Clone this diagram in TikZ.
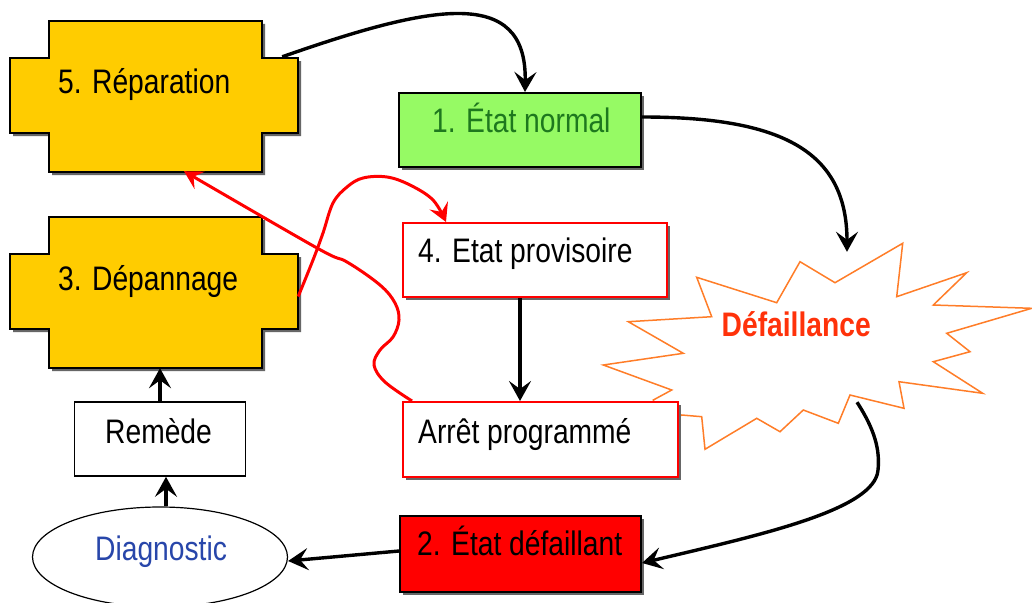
\documentclass[tikz,border=0pt]{standalone}
\usepackage{fontspec}
\setmainfont[FakeStretch=0.83]{Liberation Sans}
\usetikzlibrary{calc,shadows,arrows.meta,shapes.geometric}
\definecolor{gold}{RGB}{255,204,0}
\definecolor{normgreen}{RGB}{150,250,100}
\definecolor{normtext}{RGB}{30,120,30}
\definecolor{burstorange}{RGB}{255,125,40}
\definecolor{failred}{RGB}{255,50,10}
\definecolor{diagblue}{RGB}{40,70,170}
\begin{document}
\begin{tikzpicture}[x=1pt,y=-1pt,
  lbl/.style={anchor=base west, inner sep=0pt, font=\fontsize{34}{40}\selectfont},
  frame/.style={inner sep=0pt, draw=none},
  box/.style={rectangle, inner sep=0pt, line width=2pt},
  shade3/.style={drop shadow={shadow xshift=3pt, shadow yshift=-3pt, fill=black!60, opacity=1}},
  plusbox/.style={fill=gold, draw=black, line width=2pt, shade3},
  conn/.style={line width=3.4pt, -{Stealth[length=20pt,width=22pt,inset=8pt]}},
  redconn/.style={draw=red, line width=3pt, -{Stealth[length=18pt,width=20pt,inset=7pt]}}
]
\fill[white] (0,0) rectangle (1032,602);
\useasboundingbox (0,0) rectangle (1032,602);

% cross-shaped repair boxes
\filldraw[plusbox, shift={(10,21)}] (39,0) -- (252,0) -- (252,37) -- (288,37) -- (288,112) -- (252,112) -- (252,151) -- (39,151) -- (39,112) -- (0,112) -- (0,37) -- (39,37) -- cycle;
\filldraw[plusbox, shift={(10,217)}] (39,0) -- (252,0) -- (252,37) -- (288,37) -- (288,112) -- (252,112) -- (252,151) -- (39,151) -- (39,112) -- (0,112) -- (0,37) -- (39,37) -- cycle;
\node[frame, minimum width=288pt, minimum height=151pt] (rep) at (154,96.5) {};
\node[frame, minimum width=288pt, minimum height=151pt] (dep) at (154,292.5) {};

% failure starburst
\filldraw[draw=burstorange, fill=white, line width=1.5pt, line join=miter]
  (902.7,243.3) -- (896.7,296.7) -- (966.7,272.7) -- (933.3,305) -- (1031.7,308.3)
  -- (946.7,333.3) -- (970,351.7) -- (933.3,361.7) -- (982.7,393.3) -- (899,381.7)
  -- (904,408.3) -- (850,395) -- (838.3,423.3) -- (803.3,410) -- (780,431.7)
  -- (756.7,418.3) -- (705,449.3) -- (701.7,416.7) -- (681.7,415) -- (660,430)
  -- (653.3,400) -- (671.7,390) -- (603.3,365) -- (683.3,353.3) -- (628.3,321.7)
  -- (711.7,316.7) -- (696.7,277.3) -- (776.7,302.7) -- (800,261.7) -- (835,282.7) -- cycle;
\node[frame, minimum width=429pt, minimum height=206pt] (burst) at (817.5,346) {};

% state boxes
\node[box, draw=black, fill=normgreen, shade3, minimum width=242pt, minimum height=74pt] (norm) at (520,130) {};
\node[box, draw=red, fill=white, shade3, minimum width=264pt, minimum height=74pt] (prov) at (535,260) {};
\node[box, draw=red, fill=white, shade3, minimum width=275pt, minimum height=75pt] (arret) at (540.5,439.5) {};
\node[box, draw=black, fill=white, line width=1.6pt, minimum width=171pt, minimum height=74pt] (rem) at (160,439) {};
\node[box, draw=black, fill=red, shade3, minimum width=241pt, minimum height=76pt] (fail) at (520.5,554) {};
\node[ellipse, draw=black, line width=1.2pt, inner sep=0pt, minimum width=255pt, minimum height=100pt] (diag) at (160,557) {};

% labels
\node[lbl] (repT) at (58,93) {5. Réparation};
\node[lbl] (depT) at (58,290) {3. Dépannage};
\node[lbl, text=normtext] (normT) at (432,132) {1. État normal};
\node[lbl] (provT) at (418,262) {4. Etat provisoire};
\node[lbl] (arretT) at (418,443) {Arrêt programmé};
\node[lbl] (remT) at (105,443) {Remède};
\node[lbl, text=diagblue] (diagT) at (95,560.5) {Diagnostic};
\node[lbl] (failT) at (417,555) {2. État défaillant};
\node[lbl, text=failred, font=\bfseries\fontsize{34}{40}\selectfont] (burstT) at (721.5,336.5) {Défaillance};

% black connectors
\draw[conn] ($(rep.north east)+(-16,36)$) .. controls (430,5) and (527,-15) .. ($(norm.north)+(5,0)$);
\draw[conn] ($(norm.east)+(0,-13)$) .. controls (780,117) and (847,150) .. ($(burst.north)+(29.5,9)$);
\draw[conn] ($(burst.south)+(39.5,-47)$) .. controls (875,430) and (880,450) .. (878,470)
  .. controls (875,510) and (760,535) .. ($(fail.east)+(0,9)$);
\draw[conn] ($(fail.west)+(0,-3)$) -- ($(diag.east)+(0,4)$);
\draw[conn] ($(diag.north)+(6,0)$) -- ($(rem.south)+(6,0)$);
\draw[conn] (rem.north) -- (rem.north |- dep.south);
\coordinate (g) at ($(prov.south)+(-15,0)$);
\draw[conn] (g) -- (g |- arret.north);

% red connectors
\coordinate (h0) at ($(arret.north west)+(10,0)$);
\coordinate (h1) at ($(rep.south)+(30,-1)$);
\draw[redconn] plot[smooth, tension=0.6] coordinates {(h0) (385,382) (374,365) (380,350) (393,337) (399,320) (395,303) (380,285) (347,262) (317,248) (h1)};
\coordinate (i0) at ($(dep.east)+(0,4)$);
\coordinate (i1) at ($(prov.north west)+(44,0)$);
\draw[redconn] plot[smooth, tension=0.6] coordinates {(i0) (313,260) (323,233) (333,203) (347,187) (363,178) (387,177) (410,185) (433,200) (i1)};
\end{tikzpicture}
\end{document}
